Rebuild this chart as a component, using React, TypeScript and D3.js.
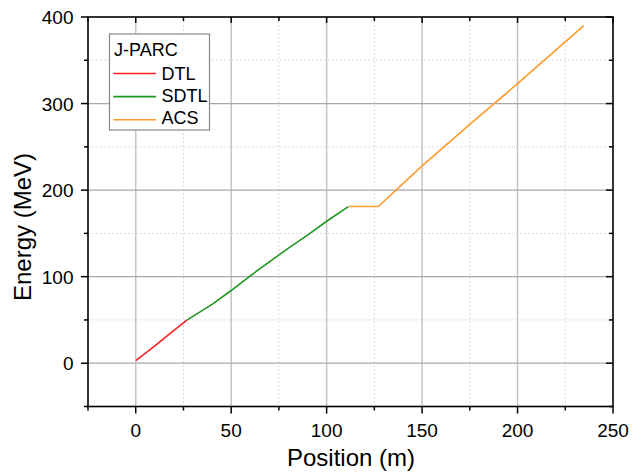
import React from "react";
import * as d3 from "d3";

const dtlPos = [0, 5, 10, 15, 20, 27];
const dtlEnergy = [3, 11.5, 20, 29, 38, 50];
const sdtlPos = [27, 40, 50, 60, 70, 80, 90, 100, 111.4];
const sdtlEnergy = [50, 68, 84, 101, 117, 133, 148, 164, 181];
const acsPos = [111.4, 127.1, 150, 175, 200, 234.7];
const acsEnergy = [181, 181, 228, 276, 323, 390];

const seriesNames = ["DTL", "SDTL", "ACS"];
const seriesColors = ["#ff2020", "#1f961f", "#ff9a2e"];
const legendTitle = "J-PARC";
const xTicks = [0, 50, 100, 150, 200, 250];
const xMinor = [-25, 25, 75, 125, 175, 225];
const yTicks = [0, 100, 200, 300, 400];
const yMinor = [-50, 50, 150, 250, 350];

export default function App() {
  const W = 635, H = 476;
  const L = 88, R = 613, T = 17, B = 406.5;
  const x = d3.scaleLinear().domain([-25, 250]).range([L, R]);
  const y = d3.scaleLinear().domain([-50, 400]).range([B, T]);
  const line = d3.line<[number, number]>().x(d => x(d[0])).y(d => y(d[1]));
  const series = [
    dtlPos.map((p, i) => [p, dtlEnergy[i]] as [number, number]),
    sdtlPos.map((p, i) => [p, sdtlEnergy[i]] as [number, number]),
    acsPos.map((p, i) => [p, acsEnergy[i]] as [number, number]),
  ];
  const font = "'Liberation Sans', Arial, sans-serif";
  return (
    <svg width={W} height={H} style={{ position: "absolute", left: 0, top: 0 }} fontFamily={font}>
      <rect width={W} height={H} fill="#fff" />
      {xMinor.filter(v => v > -25).map(v => (
        <line key={"xm" + v} x1={x(v)} x2={x(v)} y1={T} y2={B} stroke="#dcdcdc" strokeDasharray="2,2" strokeWidth={1} />
      ))}
      {yMinor.filter(v => v > -50).map(v => (
        <line key={"ym" + v} x1={L} x2={R} y1={y(v)} y2={y(v)} stroke="#dcdcdc" strokeDasharray="2,2" strokeWidth={1} />
      ))}
      {xTicks.filter(v => v < 250).map(v => (
        <line key={"xg" + v} x1={x(v)} x2={x(v)} y1={T} y2={B} stroke="#c4c4c4" strokeWidth={1.5} />
      ))}
      {yTicks.filter(v => v < 400).map(v => (
        <line key={"yg" + v} x1={L} x2={R} y1={y(v)} y2={y(v)} stroke="#a8a8a8" strokeWidth={1.3} />
      ))}
      {series.map((s, i) => (
        <path key={i} d={line(s) || ""} fill="none" stroke={seriesColors[i]} strokeWidth={1.6} />
      ))}
      <rect x={L} y={T} width={R - L} height={B - T} fill="none" stroke="#000" strokeWidth={1.6} />
      {xTicks.map(v => (
        <g key={"xt" + v}>
          <line x1={x(v)} x2={x(v)} y1={B} y2={B + 7} stroke="#000" strokeWidth={1.5} />
          <line x1={x(v)} x2={x(v)} y1={T} y2={T + 6} stroke="#000" strokeWidth={1.5} />
          <text x={x(v)} y={B + 30.5} textAnchor="middle" fontSize={19}>{v}</text>
        </g>
      ))}
      {xMinor.map(v => (
        <g key={"xmt" + v}>
          <line x1={x(v)} x2={x(v)} y1={B} y2={B + 4} stroke="#000" strokeWidth={1.5} />
          <line x1={x(v)} x2={x(v)} y1={T} y2={T + 4} stroke="#000" strokeWidth={1.5} />
        </g>
      ))}
      {yTicks.map(v => (
        <g key={"yt" + v}>
          <line x1={L - 7} x2={L} y1={y(v)} y2={y(v)} stroke="#000" strokeWidth={1.5} />
          <line x1={R - 7} x2={R} y1={y(v)} y2={y(v)} stroke="#000" strokeWidth={1.5} />
          <text x={L - 14.5} y={y(v) + 7} textAnchor="end" fontSize={19}>{v}</text>
        </g>
      ))}
      {yMinor.map(v => (
        <g key={"ymt" + v}>
          <line x1={L - 4} x2={L} y1={y(v)} y2={y(v)} stroke="#000" strokeWidth={1.5} />
          <line x1={R - 4} x2={R} y1={y(v)} y2={y(v)} stroke="#000" strokeWidth={1.5} />
        </g>
      ))}
      <text x={351} y={465.5} textAnchor="middle" fontSize={24}>Position (m)</text>
      <text transform={`translate(31,227) rotate(-90)`} textAnchor="middle" fontSize={24}>Energy (MeV)</text>
      <g>
        <rect x={109.5} y={34} width={100} height={96} fill="#fff" stroke="#888" strokeWidth={1.2} />
        <text x={114} y={55.7} fontSize={18}>{legendTitle}</text>
        {seriesNames.map((n, i) => (
          <g key={n}>
            <line x1={113.3} x2={156} y1={73.5 + i * 23.1} y2={73.5 + i * 23.1} stroke={seriesColors[i]} strokeWidth={1.6} />
            <text x={161.5} y={80 + i * 22} fontSize={18}>{n}</text>
          </g>
        ))}
      </g>
    </svg>
  );
}
